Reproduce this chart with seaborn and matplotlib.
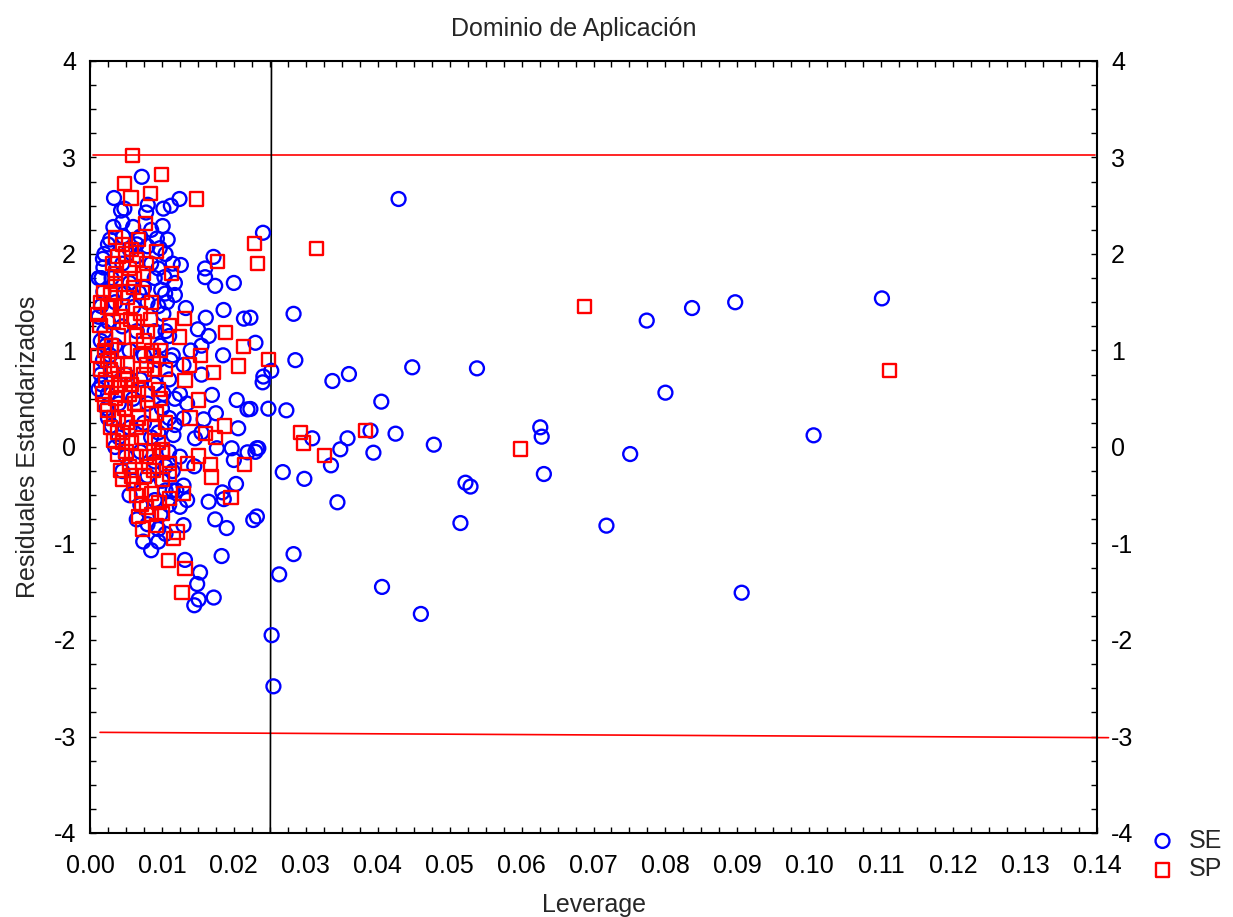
import numpy as np
import pandas as pd
import matplotlib
matplotlib.use("Agg")
import matplotlib.pyplot as plt
import seaborn as sns
from matplotlib.ticker import MultipleLocator, FormatStrFormatter

# ---------------- data ----------------
se_leverage = [
    0.0429, 0.02405, 0.0283, 0.0230, 0.02855, 0.0252, 0.0241, 0.0240, 0.0448, 0.0538,
    0.0360, 0.0337, 0.0223, 0.0248, 0.0273, 0.0405, 0.0626, 0.0628, 0.0309, 0.0358,
    0.0348, 0.0390, 0.04248, 0.0478, 0.0335, 0.0394, 0.0232, 0.0230, 0.0268, 0.0298,
    0.0522, 0.0529, 0.0631, 0.0344, 0.0232, 0.0227, 0.0515, 0.0283, 0.0263, 0.0406,
    0.0460, 0.02525, 0.0255, 0.0774, 0.0837, 0.0897, 0.1101, 0.0800, 0.1006, 0.0751,
    0.0718, 0.0906, 0.0223, 0.0200, 0.0214, 0.0204, 0.0219, 0.0206, 0.0234, 0.0219,
    0.0200, 0.0203,
    0.01244, 0.01717, 0.0160, 0.0160, 0.0174, 0.01263, 0.01333, 0.0161, 0.01857, 0.0118,
    0.01695, 0.0158, 0.0130, 0.0118, 0.0116, 0.0146, 0.01764, 0.0197, 0.0184, 0.0165,
    0.0186, 0.0174, 0.0190, 0.0130, 0.0132, 0.0153, 0.0149, 0.0151, 0.0145, 0.0172,
    0.0183, 0.0150, 0.0155, 0.0140, 0.0130, 0.0155, 0.0165, 0.0185, 0.0175, 0.0125,
    0.0135, 0.0145, 0.0125, 0.0130, 0.0125, 0.0135, 0.0155,
    0.0072, 0.00334, 0.00803, 0.00478, 0.00432, 0.0078, 0.01124, 0.0102, 0.0045, 0.0060,
    0.00325, 0.0101, 0.0028, 0.0046, 0.0070, 0.0093, 0.0108, 0.0080, 0.0097, 0.0020,
    0.00186, 0.0016, 0.00186, 0.00153, 0.01035, 0.0099, 0.01045, 0.0095, 0.0107, 0.0102,
    0.0055, 0.0065, 0.0085, 0.0045, 0.0030, 0.0055, 0.0075, 0.0090, 0.0035, 0.0060,
    0.0080, 0.0025, 0.0045, 0.0065, 0.0090, 0.0110, 0.0015, 0.0035, 0.0055, 0.0075,
    0.0095, 0.0115, 0.0018, 0.0015, 0.0016, 0.0030, 0.0050, 0.0070, 0.0090, 0.0110,
    0.0025, 0.0040, 0.0060, 0.0080, 0.0100, 0.0025, 0.0030, 0.0040, 0.0055, 0.0075,
    0.0095, 0.0110, 0.0035, 0.0050, 0.0070, 0.0090, 0.0110, 0.0045, 0.0060, 0.0080,
    0.0100, 0.0115, 0.0055, 0.0070, 0.0090, 0.0110, 0.0065, 0.0080, 0.0095, 0.0074,
    0.0085, 0.0095, 0.0105, 0.0120, 0.0105, 0.0115, 0.0118, 0.0098, 0.0102, 0.0118,
    0.0020, 0.0022, 0.0028, 0.0012, 0.0023, 0.0012, 0.0012, 0.0018, 0.0025,
    0.0065, 0.0085, 0.0095, 0.0068, 0.0048, 0.0105, 0.0112, 0.0085, 0.0105, 0.0115,
    0.0098, 0.0105,
]
se_residual = [
    2.57, 2.22, 1.38, 1.08, 0.90, 0.79, 0.73, 0.67, 0.826, 0.815,
    0.756, 0.684, 0.394, 0.397, 0.38, 0.47, 0.204, 0.107, 0.09, 0.09,
    -0.024, 0.169, 0.138, 0.024, -0.19, -0.059, -0.013, -0.05, -0.26, -0.33,
    -0.37, -0.41, -0.28, -0.573, -0.72, -0.757, -0.788, -1.11, -1.32, -1.45,
    -1.73, -1.95, -2.48, 1.31, 1.44, 1.50, 1.54, 0.563, 0.121, -0.073,
    -0.815, -1.51, 1.34, 1.70, 1.33, 0.487, 0.39, 0.194, -0.013, -0.055,
    -0.135, -0.383,
    2.57, 1.97, 1.85, 1.76, 1.67, 1.886, 1.44, 1.34, 1.42, 1.575,
    0.54, 0.287, 0.297, 0.228, 0.124, 0.09, -0.013, -0.013, -0.47, -0.567,
    -0.54, -0.75, -0.84, -0.81, -1.17, -1.30, -1.42, -1.58, -1.64, -1.56,
    -1.13, 1.22, 1.05, 1.00, 0.85, 0.75, 1.15, 0.95, 0.35, 0.55,
    0.45, -0.20, -0.10, -0.40, -0.62, -0.55, 0.15,
    2.80, 2.58, 2.51, 2.47, 2.45, 2.43, 2.50, 2.47, 2.33, 2.28,
    2.28, 2.29, 2.15, 2.18, 2.18, 2.16, 2.15, 2.08, 2.06, 2.00,
    1.86, 1.75, 1.61, 1.46, 1.76, 1.63, 1.59, 1.46, 1.50, 1.38,
    2.05, 1.98, 1.90, 1.90, 1.75, 1.70, 1.65, 1.75, 1.50, 1.45,
    1.50, 1.30, 1.25, 1.20, 1.20, 1.15, 1.10, 1.05, 1.00, 0.95,
    0.90, 0.95, 0.90, 0.75, 0.65, 0.80, 0.75, 0.70, 0.65, 0.70,
    0.55, 0.45, 0.50, 0.45, 0.40, 0.30, 0.22, 0.10, 0.20, 0.25,
    0.15, 0.30, 0.00, -0.10, -0.05, -0.15, -0.05, -0.25, -0.35, -0.30,
    -0.35, -0.25, -0.50, -0.60, -0.55, -0.60, -0.75, -0.80, -0.85, -0.98,
    -1.07, -0.98, -0.90, -0.45, 2.00, 1.90, 1.70, 1.05, 0.55, 0.50,
    1.20, 1.05, 0.95, 0.60, 0.40, 1.35, 1.75, 1.95, 2.10,
    2.10, 2.25, 1.85, 1.60, 1.60, 1.20, 0.90, 0.10, -0.20, -0.45,
    -0.70, -0.45,
]

sp_leverage = [
    0.0688, 0.1111, 0.0315, 0.02284, 0.0233, 0.0248, 0.02925, 0.0297, 0.0383, 0.0326,
    0.0599, 0.02135, 0.0206, 0.0215, 0.0196,
    0.01476, 0.0177, 0.0113, 0.0131, 0.0188, 0.01244, 0.01536, 0.0138, 0.0172, 0.0132,
    0.0151, 0.0139, 0.0187, 0.0161, 0.0175, 0.0151, 0.0136, 0.0167, 0.0169, 0.0130,
    0.0111, 0.0121, 0.0116, 0.0109, 0.0132, 0.0128, 0.0111,
    0.00594, 0.00998, 0.00478, 0.00836, 0.00571, 0.00775, 0.00357, 0.0039, 0.0065, 0.0092,
    0.0074, 0.0036, 0.0036, 0.00186, 0.0070, 0.0056, 0.0084, 0.0100, 0.0111, 0.0110,
    0.0088, 0.0100, 0.0093, 0.0073, 0.0079, 0.0096, 0.0072, 0.0086, 0.0101, 0.0101,
    0.0010, 0.0014, 0.0010, 0.0015, 0.0020, 0.0025, 0.0028, 0.0033, 0.0039, 0.0042,
    0.0046, 0.0024, 0.0028, 0.0022, 0.0025, 0.0030, 0.0035, 0.0040, 0.0045, 0.0050,
    0.0055, 0.0060, 0.0065, 0.0068, 0.0032, 0.0040, 0.0048, 0.0052, 0.0058, 0.0062,
    0.0068, 0.0072, 0.0078, 0.0082, 0.0045, 0.0052, 0.0060, 0.0065, 0.0070, 0.0075,
    0.0080, 0.0085, 0.0090, 0.0095, 0.0055, 0.0062, 0.0080, 0.0085, 0.0090, 0.0095,
    0.0098, 0.0105, 0.0038, 0.0042, 0.0048, 0.0052, 0.0058, 0.0064, 0.0035, 0.0043,
    0.0050, 0.0058, 0.0073, 0.0085, 0.0098, 0.0105, 0.0033, 0.0038, 0.0055, 0.0075,
    0.0068, 0.0078, 0.0022, 0.0018, 0.0030, 0.0048, 0.0065, 0.0088, 0.0092,
    0.0032, 0.0045, 0.0068, 0.0078, 0.0042, 0.0062, 0.0075, 0.0088, 0.0052, 0.0068,
    0.0045, 0.0058, 0.0072, 0.0085, 0.0028, 0.0038, 0.0020, 0.0015, 0.0030,
]
sp_residual = [
    1.46, 0.795, 2.06, 2.11, 1.90, 0.91, 0.152, 0.041, 0.169, -0.09,
    -0.021, 1.04, 0.84, -0.18, -0.525,
    2.57, 1.92, 1.80, 1.33, 1.19, 1.14, 0.95, 0.85, 0.77, 0.69,
    0.487, 0.30, 0.218, 0.14, 0.10, -0.093, -0.17, -0.18, -0.31, -0.48,
    -0.53, -0.88, -0.95, -1.18, -1.26, -1.51, 1.26,
    3.02, 2.82, 2.73, 2.63, 2.58, 2.32, 2.17, 1.97, 1.94, 2.03,
    1.80, 1.80, 1.69, 1.60, 1.38, 1.32, 1.32, -0.03, -0.17, -0.28,
    -0.24, -0.69, -0.81, -0.85, -0.625, -0.577, -0.45, -0.48, -0.34, -0.06,
    1.37, 1.26, 0.95, 0.80, 0.44, 0.38, 0.20, 0.07, -0.08, -0.24,
    -0.34, 1.45, 1.58, 1.12, 0.90, 0.62, 0.50, 0.30, 0.15, -0.05,
    -0.20, -0.38, -0.50, -0.72, 1.30, 1.15, 1.00, 0.85, 0.65, 0.45,
    0.30, 0.10, -0.10, -0.20, 1.45, 1.55, 1.65, 1.15, 0.95, 0.75,
    0.55, 0.35, 0.20, 0.05, 1.85, 1.75, 1.20, 1.00, 0.80, 0.60,
    0.50, 0.25, 0.85, 0.65, 0.40, 0.25, 0.05, -0.10, 1.60, 1.75,
    2.00, 2.05, 1.60, 1.50, 1.00, 0.80, 0.30, 0.15, 0.55, -0.30,
    0.60, 0.85, 0.70, 0.55, 1.05, 0.75, 0.20, -0.05, 0.35,
    1.90, 2.10, 2.15, 1.90, 1.35, 1.30, 1.10, 0.95, 0.70, 0.45,
    0.05, -0.30, -0.60, -0.70, 0.80, 0.55, 1.00, 1.50, 1.45,
]

series_names = ["SE", "SP"]
x_ticks = [0.00, 0.01, 0.02, 0.03, 0.04, 0.05, 0.06, 0.07, 0.08, 0.09, 0.10, 0.11, 0.12, 0.13, 0.14]
y_ticks = [-4, -3, -2, -1, 0, 1, 2, 3, 4]
upper_limit_y = [3.026, 3.026]
upper_limit_x = [0.0004, 0.1397]
lower_limit_y = [-2.957, -3.012]
lower_limit_x = [0.0014, 0.1416]
leverage_line_x = [0.02523, 0.02507]
leverage_line_y = [4, -4]

# ---------------- figure ----------------
sns.set_style("ticks")
plt.rcParams["font.family"] = ["Liberation Sans", "DejaVu Sans"]
plt.rcParams["font.size"] = 18

W, H = 1233, 917
fig = plt.figure(figsize=(W / 100, H / 100), dpi=100)
ax = fig.add_axes([90 / W, 1 - 833 / H, (1097 - 90) / W, (833 - 61) / H])

df_se = pd.DataFrame({"Leverage": se_leverage, "Residual": se_residual})
df_sp = pd.DataFrame({"Leverage": sp_leverage, "Residual": sp_residual})

sns.scatterplot(data=df_se, x="Leverage", y="Residual", marker="o", s=100,
                facecolor="none", edgecolor="#0000ff", linewidth=1.7,
                ax=ax, label=series_names[0], zorder=3)
sns.scatterplot(data=df_sp, x="Leverage", y="Residual", marker="s", s=90,
                facecolor="none", edgecolor="#ff0000", linewidth=1.7,
                ax=ax, label=series_names[1], zorder=4)

ax.plot(upper_limit_x, upper_limit_y, color="#ff0000", lw=1.2, zorder=2)
ax.plot(lower_limit_x, lower_limit_y, color="#ff0000", lw=1.2, zorder=2, clip_on=False)
ax.plot(leverage_line_x, leverage_line_y, color="black", lw=1.2, zorder=2)

ax.set_xlim(0, 0.14)
ax.set_ylim(-4, 4)
ax.set_xticks(x_ticks)
ax.set_yticks(y_ticks)
ax.xaxis.set_major_formatter(FormatStrFormatter("%.2f"))
ax.yaxis.set_major_formatter(FormatStrFormatter("%d"))
ax.xaxis.set_minor_locator(MultipleLocator(0.0025))
ax.yaxis.set_minor_locator(MultipleLocator(0.25))
ax.tick_params(which="both", direction="in", top=True, right=True,
               labelright=True, length=4, width=1.0, color="black",
               labelsize=18, labelcolor="black")
ax.tick_params(axis="x", which="major", pad=15)
ax.tick_params(axis="y", which="major", pad=10)

for sp in ax.spines.values():
    sp.set_visible(True)
    sp.set_color("black")
    sp.set_linewidth(1.5)

ax.set_xlabel("Leverage", fontsize=18, labelpad=11)
ax.set_ylabel("Residuales Estandarizados", fontsize=18, labelpad=10)
ax.set_title("Dominio de Aplicación", fontsize=18, pad=18, x=0.48)

handles, labels = ax.get_legend_handles_labels()
ax.legend(handles, labels, loc="center left", bbox_to_anchor=(1155 / W, 1 - 855 / H),
          bbox_transform=fig.transFigure, frameon=False, fontsize=18,
          handlelength=0.6, handletextpad=0.75, labelspacing=0.2,
          borderpad=0, borderaxespad=0, markerscale=1.0)

fig.savefig("out.png", dpi=100)
